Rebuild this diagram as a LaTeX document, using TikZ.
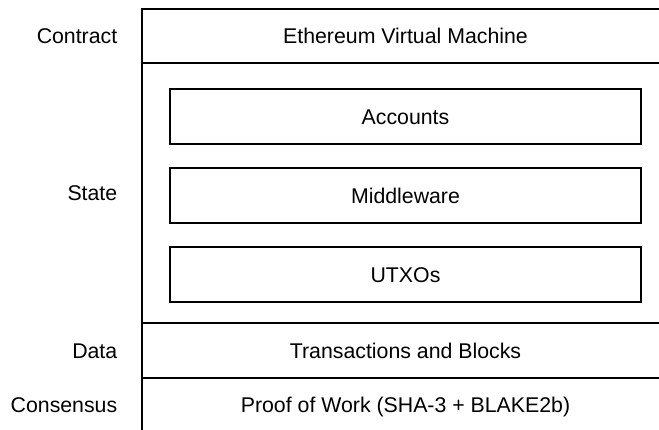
\documentclass[tikz,border=0pt]{standalone}
\usepackage{fontspec}
\setmainfont{Liberation Sans}
\usetikzlibrary{positioning}
\tikzstyle{layer}=[draw,minimum width=527pt,inner sep=0pt,outer sep=0pt,text height=15pt,text depth=0pt]
\tikzstyle{component}=[draw,minimum width=471pt,minimum height=55pt,inner sep=0pt,outer sep=0pt,text height=15pt,text depth=0pt]
\tikzstyle{tag}=[inner sep=0pt,text height=15pt,text depth=0pt]

\begin{document}
\begin{tikzpicture}[x=1pt,y=-1pt,line width=1.5pt,font=\fontsize{21.3}{25}\selectfont]
  \useasboundingbox (0,0) rectangle (659,429);
  % layers
  \node[layer,minimum height=54pt,anchor=north west] (contract) at (142,9) {Ethereum Virtual Machine};
  \node[layer,minimum height=260pt] (state) [below=0pt of contract] {};
  \node[layer,minimum height=55pt]  (data)  [below=0pt of state] {Transactions and Blocks};
  \node[layer,minimum height=53pt]  (consensus) [below=0pt of data] {Proof of Work (SHA-3 + BLAKE2b)};
  % state components
  \node[component] (accounts)   [below=26pt of state.north] {Accounts};
  \node[component] (middleware) [below=24pt of accounts] {Middleware};
  \node[component] (utxos)      [below=24pt of middleware] {UTXOs};
  % layer names
  \node[tag] (contract-tag)  [left=24pt of contract.west]  {Contract};
  \node[tag] (state-tag)     [left=24pt of state.west]     {State};
  \node[tag] (data-tag)      [left=24pt of data.west]      {Data};
  \node[tag] (consensus-tag) [left=24pt of consensus.west] {Consensus};
\end{tikzpicture}
\end{document}
